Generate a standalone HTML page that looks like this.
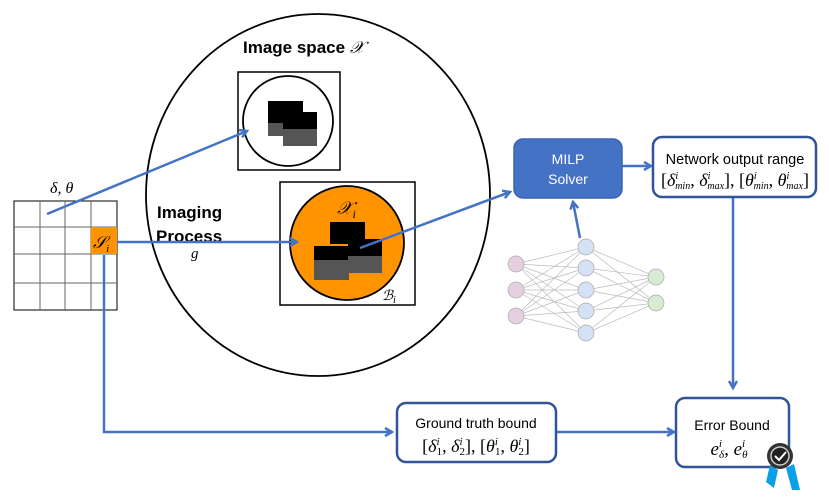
<!DOCTYPE html>
<html><head><meta charset="utf-8"><style>
html,body{margin:0;padding:0;background:#fff;}
svg{display:block;font-family:"Liberation Sans",sans-serif;}
.m{font-family:"Liberation Serif",serif;font-style:italic;}
.f{font-family:"Liberation Serif",serif;}
.i{font-style:italic;}
</style></head><body>
<svg width="830" height="501" viewBox="0 0 830 501">
<defs>
<marker id="a" markerWidth="10" markerHeight="10" refX="8" refY="5" orient="auto" markerUnits="userSpaceOnUse">
<path d="M1,1 L8,5 L1,9" fill="none" stroke="#4472c4" stroke-width="2.5"/>
</marker>
</defs>
<ellipse cx="318" cy="195" rx="172" ry="181" fill="none" stroke="#000" stroke-width="1.8"/>
<text x="243" y="53" font-size="17" font-weight="bold">Image space <tspan class="m" font-weight="normal">𝒳</tspan></text>
<rect x="238" y="72" width="102" height="98" fill="#fff" stroke="#000" stroke-width="1.5"/>
<circle cx="288" cy="121" r="45" fill="#fff" stroke="#000" stroke-width="1.8"/>
<rect x="268" y="101" width="35" height="22" fill="#000"/>
<rect x="268" y="123" width="35" height="13" fill="#555"/>
<rect x="283" y="112" width="34" height="17" fill="#000"/>
<rect x="283" y="129" width="34" height="17" fill="#555"/>
<rect x="280" y="182" width="135" height="123" fill="#fff" stroke="#000" stroke-width="1.5"/>
<circle cx="347" cy="243" r="57" fill="#ff9400" stroke="#000" stroke-width="1.8"/>
<text x="337" y="214" class="m" font-size="18">𝒳<tspan font-size="12" dy="4">i</tspan></text>
<text x="382" y="300" class="m" font-size="14">ℬ<tspan font-size="10" dy="3">i</tspan></text>
<rect x="330" y="222" width="35" height="22" fill="#000"/>
<rect x="314" y="246" width="35" height="14" fill="#000"/>
<rect x="314" y="260" width="35" height="20" fill="#555"/>
<rect x="348" y="239" width="34" height="17" fill="#000"/>
<rect x="348" y="256" width="34" height="17" fill="#555"/>
<text x="157" y="218" font-size="17" font-weight="bold">Imaging</text>
<text x="156" y="242" font-size="17" font-weight="bold">Process</text>
<text x="191" y="258" class="m" font-size="15">g</text>
<g stroke="#000" stroke-width="1" fill="none">
<rect x="14" y="201" width="103" height="109"/>
<line x1="40" y1="201" x2="40" y2="310" stroke="#666"/>
<line x1="65" y1="201" x2="65" y2="310" stroke="#666"/>
<line x1="91" y1="201" x2="91" y2="310" stroke="#666"/>
<line x1="14" y1="227" x2="117" y2="227" stroke="#666"/>
<line x1="14" y1="254" x2="117" y2="254" stroke="#666"/>
<line x1="14" y1="283" x2="117" y2="283" stroke="#666"/>
</g>
<rect x="91" y="227" width="26" height="27" fill="#ff9400"/>
<text x="93" y="248" class="m" font-size="17">𝒮<tspan font-size="11" dy="4">i</tspan></text>
<text x="50" y="193" class="m" font-size="16">δ, θ</text>
<g stroke="#4472c4" stroke-width="2.5" fill="none">
<line x1="47" y1="214" x2="247" y2="131" marker-end="url(#a)"/>
<line x1="117" y1="242" x2="297" y2="242" marker-end="url(#a)"/>
<polyline points="104,255 104,432 392,432" marker-end="url(#a)"/>
<line x1="360" y1="248" x2="510" y2="192" marker-end="url(#a)"/>
<line x1="622" y1="166" x2="651" y2="166" marker-end="url(#a)"/>
<line x1="733" y1="197" x2="733" y2="388" marker-end="url(#a)"/>
<line x1="556" y1="432" x2="674" y2="432" marker-end="url(#a)"/>
<line x1="580" y1="238" x2="573" y2="202" marker-end="url(#a)"/>
</g>
<rect x="514" y="139" width="108" height="59" rx="9" fill="#4472c4" stroke="#3b64ad" stroke-width="1.5"/>
<text x="568" y="164" font-size="14" fill="#fff" text-anchor="middle">MILP</text>
<text x="568" y="184" font-size="14" fill="#fff" text-anchor="middle">Solver</text>
<rect x="653" y="137" width="163" height="60" rx="9" fill="#fff" stroke="#2f5597" stroke-width="2.5"/>
<text x="735" y="164" font-size="14.5" text-anchor="middle">Network output range</text>
<text x="735" y="186" class="f" font-size="18" text-anchor="middle">[<tspan class="i">δ</tspan><tspan font-size="10" dy="-7" class="i">i</tspan><tspan font-size="10" dx="-3" dy="10" class="i">min</tspan><tspan dy="-3">, </tspan><tspan class="i">δ</tspan><tspan font-size="10" dy="-7" class="i">i</tspan><tspan font-size="10" dx="-3" dy="10" class="i">max</tspan><tspan dy="-3">], [</tspan><tspan class="i">θ</tspan><tspan font-size="10" dy="-7" class="i">i</tspan><tspan font-size="10" dx="-3" dy="10" class="i">min</tspan><tspan dy="-3">, </tspan><tspan class="i">θ</tspan><tspan font-size="10" dy="-7" class="i">i</tspan><tspan font-size="10" dx="-3" dy="10" class="i">max</tspan><tspan dy="-3">]</tspan></text>
<rect x="397" y="403" width="159" height="59" rx="9" fill="#fff" stroke="#2f5597" stroke-width="2.5"/>
<text x="476" y="428" font-size="14" text-anchor="middle">Ground truth bound</text>
<text x="476" y="452" class="f" font-size="18" text-anchor="middle">[<tspan class="i">δ</tspan><tspan font-size="11" dy="-7" class="i">i</tspan><tspan font-size="11" dx="-3" dy="10">1</tspan><tspan dy="-3">, </tspan><tspan class="i">δ</tspan><tspan font-size="11" dy="-7" class="i">i</tspan><tspan font-size="11" dx="-3" dy="10">2</tspan><tspan dy="-3">], [</tspan><tspan class="i">θ</tspan><tspan font-size="11" dy="-7" class="i">i</tspan><tspan font-size="11" dx="-3" dy="10">1</tspan><tspan dy="-3">, </tspan><tspan class="i">θ</tspan><tspan font-size="11" dy="-7" class="i">i</tspan><tspan font-size="11" dx="-3" dy="10">2</tspan><tspan dy="-3">]</tspan></text>
<rect x="676" y="398" width="113" height="69" rx="9" fill="#fff" stroke="#2f5597" stroke-width="2.5"/>
<text x="732" y="430" font-size="14" text-anchor="middle">Error Bound</text>
<text x="729" y="455" class="m" font-size="19" text-anchor="middle">e<tspan font-size="11" dy="-8">i</tspan><tspan font-size="11" dx="-3" dy="11">δ</tspan><tspan dy="-3" font-style="normal">, </tspan>e<tspan font-size="11" dy="-8">i</tspan><tspan font-size="11" dx="-3" dy="11">θ</tspan></text>
<path d="M770,465 L778,470 L774,488 L766,482 Z" fill="#0aa0e8"/>
<path d="M786,468 L794,464 L800,490 L792,490 Z" fill="#0aa0e8"/>
<circle cx="780" cy="456" r="13" fill="#333"/>
<circle cx="780" cy="456" r="9" fill="#222" stroke="#ccc" stroke-width="1.5"/>
<path d="M775,456 L779,460 L786,452" fill="none" stroke="#fff" stroke-width="2"/>
<g stroke="#bbb" stroke-width="0.7">
<line x1="516" y1="264" x2="586" y2="247"/><line x1="516" y1="264" x2="586" y2="268"/><line x1="516" y1="264" x2="586" y2="290"/><line x1="516" y1="264" x2="586" y2="311"/><line x1="516" y1="264" x2="586" y2="333"/>
<line x1="516" y1="290" x2="586" y2="247"/><line x1="516" y1="290" x2="586" y2="268"/><line x1="516" y1="290" x2="586" y2="290"/><line x1="516" y1="290" x2="586" y2="311"/><line x1="516" y1="290" x2="586" y2="333"/>
<line x1="516" y1="316" x2="586" y2="247"/><line x1="516" y1="316" x2="586" y2="268"/><line x1="516" y1="316" x2="586" y2="290"/><line x1="516" y1="316" x2="586" y2="311"/><line x1="516" y1="316" x2="586" y2="333"/>
<line x1="586" y1="247" x2="656" y2="277"/><line x1="586" y1="268" x2="656" y2="277"/><line x1="586" y1="290" x2="656" y2="277"/><line x1="586" y1="311" x2="656" y2="277"/><line x1="586" y1="333" x2="656" y2="277"/>
<line x1="586" y1="247" x2="656" y2="303"/><line x1="586" y1="268" x2="656" y2="303"/><line x1="586" y1="290" x2="656" y2="303"/><line x1="586" y1="311" x2="656" y2="303"/><line x1="586" y1="333" x2="656" y2="303"/>
</g>
<g stroke="#aaa" stroke-width="0.7">
<circle cx="516" cy="264" r="8" fill="#e6cfe0"/><circle cx="516" cy="290" r="8" fill="#e6cfe0"/><circle cx="516" cy="316" r="8" fill="#e6cfe0"/>
<circle cx="586" cy="247" r="8" fill="#d5e1f5"/><circle cx="586" cy="268" r="8" fill="#d5e1f5"/><circle cx="586" cy="290" r="8" fill="#d5e1f5"/><circle cx="586" cy="311" r="8" fill="#d5e1f5"/><circle cx="586" cy="333" r="8" fill="#d5e1f5"/>
<circle cx="656" cy="277" r="8" fill="#d9ebd3"/><circle cx="656" cy="303" r="8" fill="#d9ebd3"/>
</g>
</svg>
</body></html>
